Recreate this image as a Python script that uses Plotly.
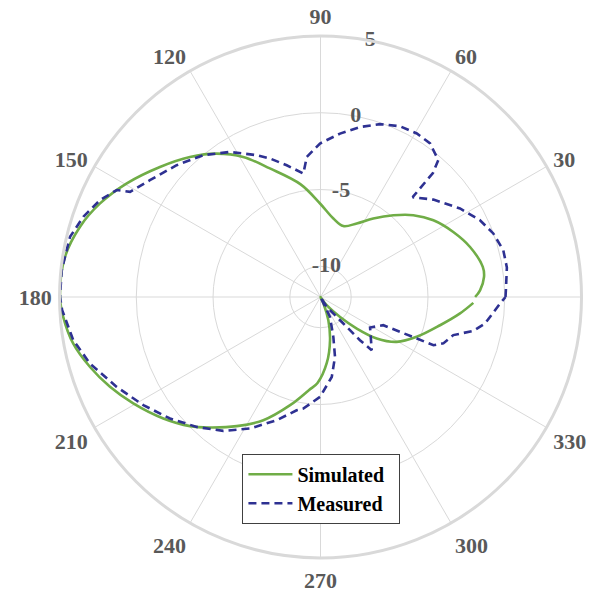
import plotly.graph_objects as go

# Simulated pattern (angle in degrees, gain in dB)
sim_theta = [0, 2.4, 7, 10.5, 18.5, 26.1, 34.2, 41.4, 48.3, 56.1, 63.8, 72.2, 80.7, 90.3,
             100, 111.5, 118.9, 125.9, 133, 141, 149.6, 157, 163.7, 171.1, 180,
             184.4, 190.7, 196.9, 203.1, 209.6, 217.7, 224.7, 229.7, 237, 245.1, 254.3,
             263, 268, 275.5, 282.4, 288.6, 294, 298, 303, 307, 314.4, 319, 323.6,
             329.5, 337.5, 346.7, 353.3, 357.8]
sim_r = [-1.93, -1.6, -1.27, -1.25, -1.73, -2.37, -3.11, -3.94, -4.87, -5.84, -6.66, -7.15, -6.82, -5.91,
         -4.55, -3.0, -1.58, -0.47, 0.47, 1.46, 2.63, 3.6, 4.32, 4.85, 4.97,
         4.81, 4.39, 3.69, 2.91, 2.03, 0.94, -0.04, -0.86, -1.97, -3.15, -4.68,
         -5.9, -6.4, -7.7, -9.12, -10.4, -11.5, -12, -11.9, -11.33, -10.18, -8.87, -7.45,
         -6.24, -5.22, -4.0, -2.85, -2.04]

# Measured pattern
meas_theta = [0, 3, 9, 14.4, 20.2, 25.7, 32.4, 40.8, 47.3, 47.8, 49.3, 54.5, 59.5, 65, 71,
              76.9, 83.2, 90.2, 95.6, 97.9, 104.4, 110, 114.2, 122, 129.6, 137.5, 145.6,
              151.1, 152.3, 156.3, 161.3, 166.5, 174.1, 180, 182.9, 189.9, 196.1, 203.8,
              211.4, 218.9, 226.4, 234, 241.8, 250.4, 258.1, 261.2, 269.7, 278, 283.6,
              287.8, 295.5, 299, 302, 310.7, 312.4, 313.9, 328.4, 335.8, 336.3, 336.7,
              336.9, 339.3, 344, 347.5, 350.8, 357.9, 360]
meas_r = [0.05, 0.1, 0.29, 0.29, -0.01, -0.47, -1.24, -2.29, -3.15, -1.1, -0.24, 0.29, 0.36, 0.27, -0.09,
          -0.63, -1.28, -2.0, -2.83, -3.88, -3.14, -2.4, -1.87, -0.86, -0.01, 0.71, 1.47,
          2.17, 2.99, 3.69, 4.31, 4.78, 4.95, 4.97, 4.85, 4.35, 3.63, 2.51,
          1.52, 0.6, -0.31, -1.22, -2.28, -3.48, -4.46, -4.65, -5.49, -6.74, -7.99,
          -9.27, -10.57, -12, -11.24, -9.72, -8.19, -7.19, -8.21, -7.52, -6.35, -5.17,
          -4.0, -3.45, -3.0, -1.8, -1.15, -0.3, 0.05]

angle_ticks = [0, 30, 60, 90, 120, 150, 180, 210, 240, 270, 300, 330]
radial_ticks = [-10, -5, 0, 5]
radial_label_angle = 79

fig = go.Figure()
fig.add_trace(go.Scatterpolar(
    theta=sim_theta, r=sim_r, mode="lines", name="<b>Simulated</b>&nbsp;&nbsp;",
    line=dict(color="#70ad47", width=2.6, shape="spline", smoothing=1.0),
))
fig.add_trace(go.Scatterpolar(
    theta=meas_theta, r=meas_r, mode="lines", name="<b>Measured</b>",
    line=dict(color="#2e3192", width=2.6, dash="8px,5px"),
))
# radial tick labels, centred on the ~80-degree ray as in the original
fig.add_trace(go.Scatterpolar(
    theta=[radial_label_angle] * len(radial_ticks), r=radial_ticks,
    mode="text", text=["<b>%d</b>" % v for v in radial_ticks],
    textposition="middle center",
    textfont=dict(family="Liberation Serif", size=22, color="#595959"),
    showlegend=False, hoverinfo="skip", cliponaxis=False,
))

tick_font = dict(family="Liberation Serif", size=22, color="#595959")

fig.update_layout(
    width=595, height=596,
    margin=dict(l=0, r=0, t=0, b=0),
    paper_bgcolor="white",
    plot_bgcolor="white",
    font=dict(family="Liberation Serif"),
    polar=dict(
        domain=dict(x=[0.0866, 0.9639], y=[0.0772, 0.953]),
        bgcolor="white",
        radialaxis=dict(
            range=[-12, 5], tickvals=radial_ticks,
            showticklabels=False, angle=80,
            showline=False, ticks="", gridcolor="#d9d9d9", gridwidth=1,
        ),
        angularaxis=dict(
            direction="counterclockwise", rotation=0,
            tickvals=angle_ticks, ticktext=["<b>%d</b>" % v for v in angle_ticks],
            ticks="outside", ticklen=2, tickcolor="rgba(0,0,0,0)",
            showline=True, linecolor="#d9d9d9", linewidth=3,
            gridcolor="#d9d9d9", gridwidth=1,
            tickfont=tick_font,
        ),
    ),
    legend=dict(
        x=0.394, y=0.252, xanchor="left", yanchor="top",
        bgcolor="white", bordercolor="#404040", borderwidth=1,
        font=dict(family="Liberation Serif", size=20, color="#000000"),
        itemwidth=44,
        tracegroupgap=0,
    ),
    showlegend=True,
)

fig.write_html("out.html")
